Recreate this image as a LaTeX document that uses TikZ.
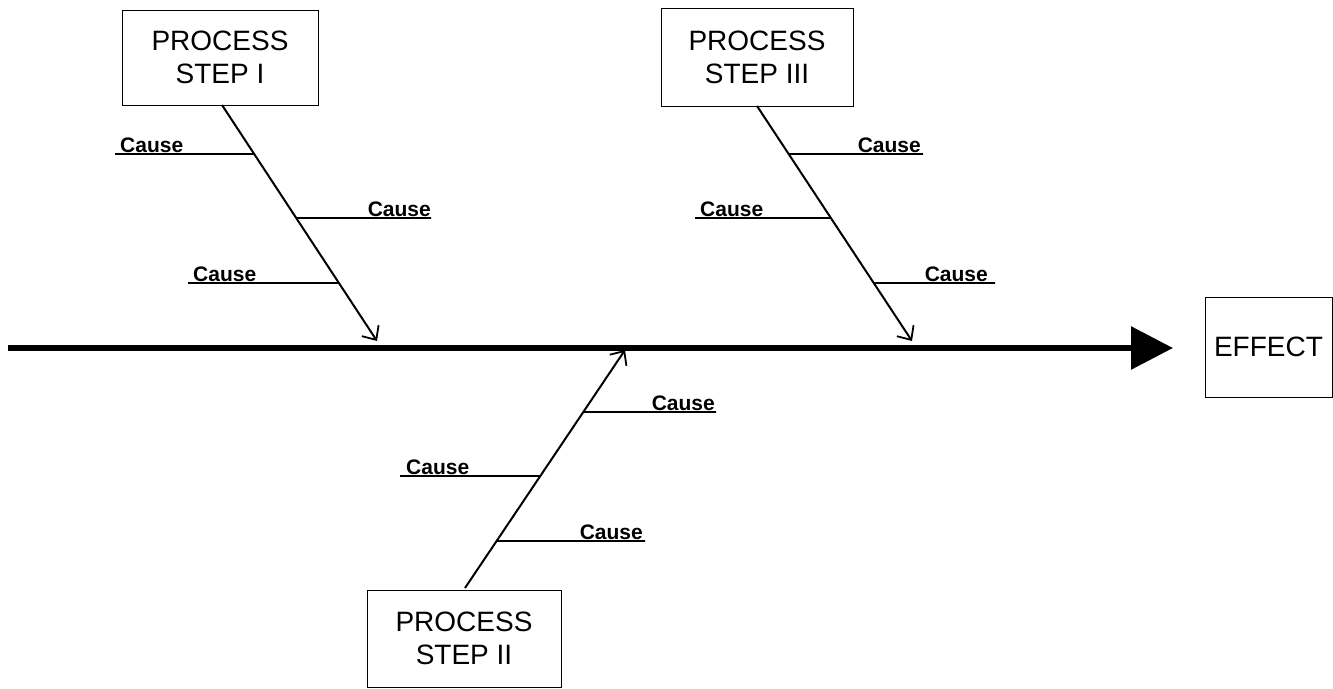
\documentclass[tikz,border=0pt]{standalone}
\usepackage{fontspec}
\setmainfont{Liberation Sans}
\usetikzlibrary{arrows.meta}
\begin{document}
\begin{tikzpicture}[x=1pt,y=-1pt,
  stepbox/.style={draw, line width=1pt, inner sep=0pt, align=center,
    font=\fontsize{28}{33}\selectfont},
  bone/.style={line width=2pt,
    -{Straight Barb[length=11pt,width=20pt,line width=1.8pt]}},
  spine/.style={line width=6pt, -{Triangle[length=42pt,width=42pt]}},
  causeline/.style={line width=1.6pt},
  causelbl/.style={inner sep=0pt, font=\fontsize{21}{24}\selectfont\bfseries}]
\useasboundingbox (0,0) rectangle (1333,688);

% boxes
\node[stepbox, minimum width=196pt, minimum height=95pt] (p1) at (220,57.5) {PROCESS\\STEP I};
\node[stepbox, minimum width=192pt, minimum height=98pt] (p3) at (757,57) {PROCESS\\STEP III};
\node[stepbox, minimum width=194pt, minimum height=97pt] (p2) at (464,638.5) {PROCESS\\STEP II};
\node[stepbox, minimum width=127pt, minimum height=100pt] (eff) at (1268.5,347) {EFFECT};

% spine
\coordinate (sp0) at (8,348);
\coordinate (sp1) at (1173,348);
\draw[spine] (sp0) -- (sp1);

% bone endpoints
\coordinate (b1s) at (222,105);
\coordinate (b1e) at (377,341);
\coordinate (b3s) at (757,106);
\coordinate (b3e) at (912,341);
\coordinate (b2s) at (465,588);
\coordinate (b2e) at (625,350);

\path (b1s) -- (b1e) coordinate[pos=0.2076] (j11) coordinate[pos=0.4788] (j12) coordinate[pos=0.7542] (j13);
\path (b3s) -- (b3e) coordinate[pos=0.2043] (j31) coordinate[pos=0.4766] (j32) coordinate[pos=0.7532] (j33);
\path (b2s) -- (b2e) coordinate[pos=0.7395] (j21) coordinate[pos=0.4706] (j22) coordinate[pos=0.1975] (j23);

\draw[bone] (b1s) -- (b1e);
\draw[bone] (b3s) -- (b3e);
\draw[bone] (b2s) -- (b2e);

% cause free ends
\coordinate (c11) at (115,154);
\coordinate (c12) at (431,218);
\coordinate (c13) at (188,283);
\coordinate (c31) at (923,154);
\coordinate (c32) at (695,218);
\coordinate (c33) at (995,283);
\coordinate (c21) at (716,412);
\coordinate (c22) at (400,476);
\coordinate (c23) at (645,541);

\draw[causeline] (c11) -- (j11);
\draw[causeline] (j12) -- (c12);
\draw[causeline] (c13) -- (j13);
\draw[causeline] (j31) -- (c31);
\draw[causeline] (c32) -- (j32);
\draw[causeline] (j33) -- (c33);
\draw[causeline] (j21) -- (c21);
\draw[causeline] (c22) -- (j22);
\draw[causeline] (j23) -- (c23);

% labels
\node[causelbl, anchor=base west] (l11) at (120,152) {Cause};
\node[causelbl, anchor=base east] (l12) at (431,216) {Cause};
\node[causelbl, anchor=base west] (l13) at (193,281) {Cause};
\node[causelbl, anchor=base east] (l31) at (921,152) {Cause};
\node[causelbl, anchor=base west] (l32) at (700,216) {Cause};
\node[causelbl, anchor=base east] (l33) at (988,281) {Cause};
\node[causelbl, anchor=base east] (l21) at (715,410) {Cause};
\node[causelbl, anchor=base west] (l22) at (406,474) {Cause};
\node[causelbl, anchor=base east] (l23) at (643,539) {Cause};
\end{tikzpicture}
\end{document}
